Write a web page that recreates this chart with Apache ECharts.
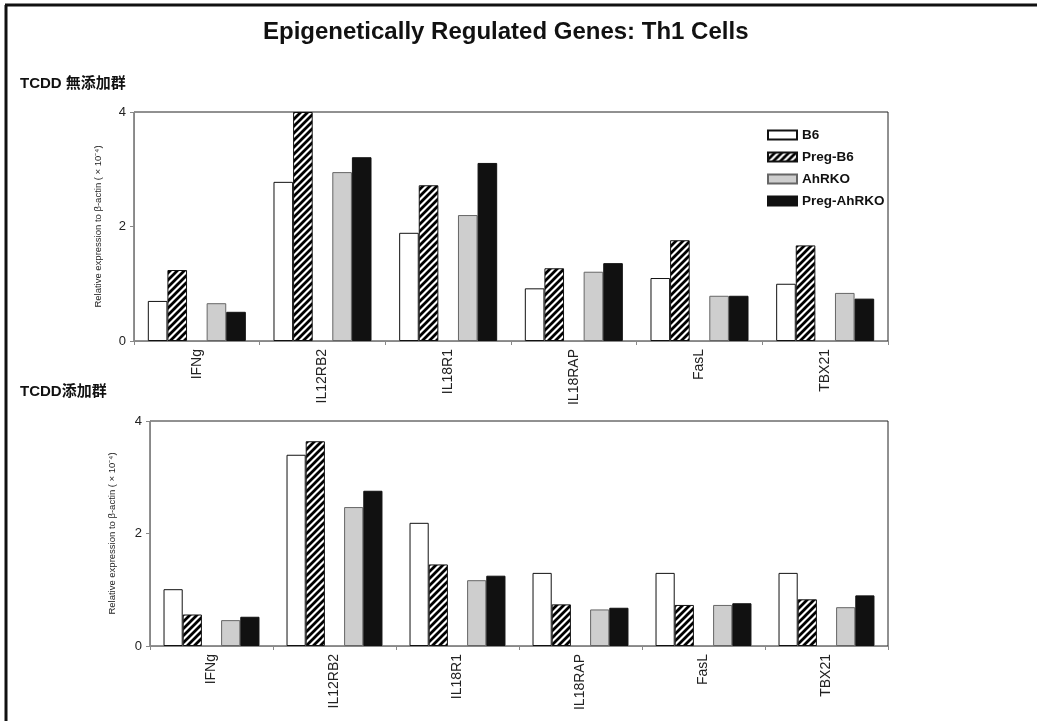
<!DOCTYPE html>
<html>
<head>
<meta charset="utf-8">
<script src="https://cdn.jsdelivr.net/npm/echarts@6/dist/echarts.min.js"></script>
<style>
html,body{margin:0;padding:0;background:#fff;}
#chart{width:1037px;height:721px;}
</style>
</head>
<body>
<div id="chart"></div>
<script>
const categories = ['IFNg','IL12RB2','IL18R1','IL18RAP','FasL','TBX21'];
const seriesNames = ['B6','Preg-B6','AhRKO','Preg-AhRKO'];
const yTicks = [0, 2, 4];

// TCDD 無添加群 (top)
const topB6        = [0.70, 2.78, 1.89, 0.92, 1.10, 1.00];
const topPregB6    = [1.24, 4.00, 2.72, 1.27, 1.76, 1.67];
const topAhRKO     = [0.66, 2.95, 2.20, 1.21, 0.79, 0.84];
const topPregAhRKO = [0.51, 3.21, 3.11, 1.36, 0.79, 0.74];

// TCDD添加群 (bottom)
const botB6        = [1.01, 3.40, 2.19, 1.30, 1.30, 1.30];
const botPregB6    = [0.56, 3.64, 1.45, 0.74, 0.73, 0.83];
const botAhRKO     = [0.46, 2.47, 1.17, 0.65, 0.73, 0.69];
const botPregAhRKO = [0.52, 2.76, 1.25, 0.68, 0.76, 0.90];

function hatch() {
  const s = 7;
  const c = document.createElement('canvas');
  c.width = s; c.height = s;
  const g = c.getContext('2d');
  g.fillStyle = '#fff'; g.fillRect(0,0,s,s);
  g.strokeStyle = '#000'; g.lineWidth = 2.8;
  g.beginPath();
  g.moveTo(0, s); g.lineTo(s, 0);
  g.moveTo(-s/2, s/2); g.lineTo(s/2, -s/2);
  g.moveTo(s/2, s*1.5); g.lineTo(s*1.5, s/2);
  g.stroke();
  return c;
}
const hatchPattern = {image: hatch(), repeat: 'repeat'};

const styles = {
  'B6': {color: '#ffffff', borderColor: '#111', borderWidth: 1},
  'Preg-B6': {color: hatchPattern, borderColor: '#111', borderWidth: 1},
  'AhRKO': {color: '#cecece', borderColor: '#666', borderWidth: 1},
  'Preg-AhRKO': {color: '#111111', borderColor: '#111', borderWidth: 1}
};

const yName = 'Relative expression to β-actin ( × 10⁻⁴)';
const FONT = '"Liberation Sans", Arial, sans-serif';

function xAxisCfg(gi) {
  return {
    type: 'category', gridIndex: gi, data: categories,
    axisLine: {show: true, lineStyle: {color: '#888', width: 1}},
    axisTick: {show: true, alignWithLabel: false, length: 4, lineStyle: {color: '#888'}},
    axisLabel: {rotate: 90, fontSize: 14, color: '#222', fontFamily: FONT, margin: 8}
  };
}
function yAxisCfg(gi, gap) {
  return {
    type: 'value', gridIndex: gi, min: 0, max: 4, interval: 2,
    name: yName, nameLocation: 'middle', nameGap: gap, nameRotate: 90,
    nameTextStyle: {fontSize: 9.5, color: '#222', fontFamily: FONT},
    axisLine: {show: true, lineStyle: {color: '#888', width: 1}},
    axisTick: {show: true, length: 4, lineStyle: {color: '#888'}},
    axisLabel: {fontSize: 13, color: '#222', fontFamily: FONT, margin: 8,
      formatter: v => yTicks.includes(v) ? String(v) : ''},
    splitLine: {show: false}
  };
}

function bars(gi, arrs) {
  const out = [];
  const order = [0, 1, -1, 2, 3];
  order.forEach(i => {
    if (i < 0) {
      out.push({name: '_gap', type: 'bar', xAxisIndex: gi, yAxisIndex: gi,
        data: categories.map(() => null), barGap: '0%', barCategoryGap: '22%', silent: true});
    } else {
      const n = seriesNames[i];
      out.push({name: n, type: 'bar', xAxisIndex: gi, yAxisIndex: gi, data: arrs[i],
        barGap: '0%', barCategoryGap: '22%', itemStyle: styles[n]});
    }
  });
  return out;
}

const chart = echarts.init(document.getElementById('chart'), null, {renderer: 'canvas'});
chart.setOption({
  backgroundColor: '#fff',
  animation: false,
  grid: [
    {left: 134, top: 112, width: 754, height: 229, show: true, borderColor: '#222', borderWidth: 1, backgroundColor: 'transparent'},
    {left: 150, top: 421, width: 738, height: 225, show: true, borderColor: '#222', borderWidth: 1, backgroundColor: 'transparent'}
  ],
  legend: {
    data: seriesNames.map(n => ({name: n, icon: 'rect'})), orient: 'vertical', left: 762, top: 123,
    itemWidth: 29, itemHeight: 9, itemGap: 8,
    textStyle: {fontSize: 13.5, fontWeight: 'bold', color: '#111', fontFamily: FONT},
    selectedMode: false
  },
  xAxis: [xAxisCfg(0), xAxisCfg(1)],
  yAxis: [yAxisCfg(0, 31), yAxisCfg(1, 33)],
  series: bars(0, [topB6, topPregB6, topAhRKO, topPregAhRKO])
    .concat(bars(1, [botB6, botPregB6, botAhRKO, botPregAhRKO])),
  graphic: [
    {type: 'line', shape: {x1: 5, y1: 5, x2: 1037, y2: 5}, style: {stroke: '#111', lineWidth: 3}},
    {type: 'line', shape: {x1: 6, y1: 5, x2: 6, y2: 721}, style: {stroke: '#111', lineWidth: 3}},
    {type: 'text', left: 263, top: 20, style: {text: 'Epigenetically Regulated Genes: Th1 Cells',
      font: 'bold 24px "Liberation Sans", Arial, sans-serif', fill: '#111'}},
    {type: 'text', left: 20, top: 76, style: {text: 'TCDD 無添加群',
      font: 'bold 15px "Liberation Sans", "Noto Sans CJK JP", sans-serif', fill: '#111'}},
    {type: 'text', left: 20, top: 384, style: {text: 'TCDD添加群',
      font: 'bold 15px "Liberation Sans", "Noto Sans CJK JP", sans-serif', fill: '#111'}}
  ]
});
</script>
</body>
</html>
